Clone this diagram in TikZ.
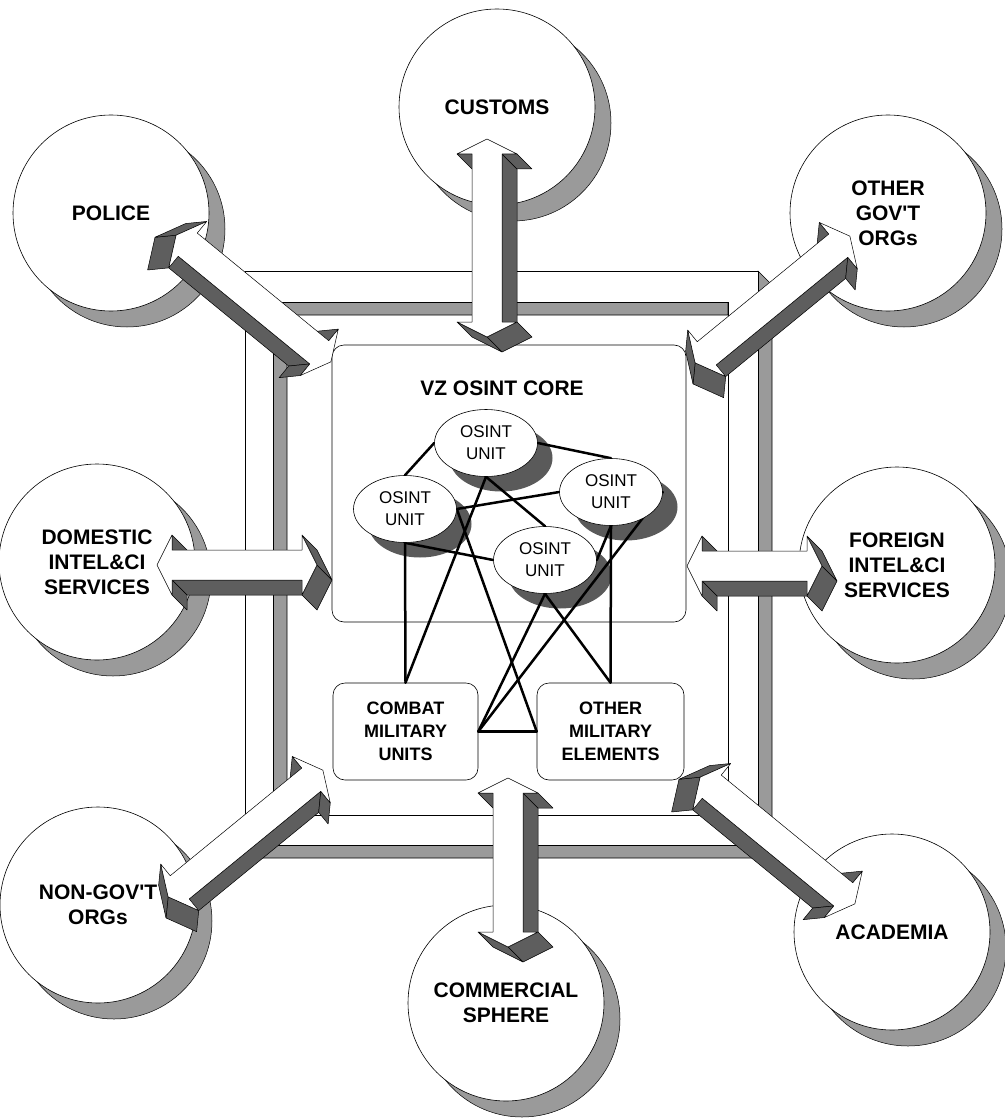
\documentclass[tikz,border=0pt]{standalone}
\usepackage{fontspec}
\setmainfont{Liberation Sans}
\usetikzlibrary{shapes.geometric}

\pgfdeclarelayer{frameL}
\pgfdeclarelayer{shadeL}
\pgfdeclarelayer{wireL}
\pgfdeclarelayer{topL}
\pgfsetlayers{frameL,shadeL,wireL,main,topL}

\definecolor{sideface}{HTML}{5E5E5E}
\definecolor{wall}{HTML}{9A9A9A}
\definecolor{unitshadow}{HTML}{5A5A5A}

\tikzset{
  sidefill/.style={fill=sideface, draw=black, line width=0.5pt, line join=round},
  frontfill/.style={fill=white, draw=black, line width=0.5pt, line join=round},
  wallfill/.style={fill=wall, draw=black, line width=0.6pt, line join=round},
  party/.style={circle, draw=black, line width=0.6pt, fill=white, minimum size=196pt,
    inner sep=0pt, align=center, font=\bfseries\fontsize{21}{25}\selectfont},
  partyshadow/.style={fill=wall, draw=black, line width=0.5pt},
  unit/.style={ellipse, draw=black, line width=0.6pt, fill=white, minimum width=103pt,
    minimum height=67pt, inner sep=0pt, align=center, font=\fontsize{17}{22}\selectfont},
  group/.style={rounded corners=12pt, draw=black, line width=0.6pt, fill=white,
    align=center, inner sep=0pt, font=\bfseries\fontsize{18}{23}\selectfont},
  link/.style={line width=2.5pt, line cap=round}
}

% Extruded double arrow: centre (#1,#2), rotation #3, mirror #4, tip-to-tip length #5.
% Local shape points along the y axis; depth (15,15) in local coordinates.
\newcommand{\blockarrow}[5]{%
  \begin{scope}[shift={(#1,#2)}, rotate=#3, xscale=#4]
    \pgfmathsetmacro\ah{#5/2}
    \pgfmathsetmacro\ab{#5/2-15}
    \path[sidefill] (15,-\ab) -- (15,\ab) -- (30,\ab+15) -- (30,-\ab+15) -- cycle;
    \path[sidefill] (30,-\ab) -- (15,-\ab) -- (30,-\ab+15) -- (45,-\ab+15) -- cycle;
    \path[sidefill] (-15,-\ab) -- (-30,-\ab) -- (-15,-\ab+15) -- (0,-\ab+15) -- cycle;
    \path[sidefill] (30,\ab) -- (0,\ah) -- (15,\ah+15) -- (45,\ab+15) -- cycle;
    \path[sidefill] (0,\ah) -- (-30,\ab) -- (-15,\ab+15) -- (15,\ah+15) -- cycle;
    \path[frontfill] (0,-\ah) -- (30,-\ab) -- (15,-\ab) -- (15,\ab) -- (30,\ab) -- (0,\ah)
      -- (-30,\ab) -- (-15,\ab) -- (-15,-\ab) -- (-30,-\ab) -- cycle;
  \end{scope}}

\begin{document}
\begin{tikzpicture}[x=1pt,y=-1pt]
\useasboundingbox (0,0) rectangle (1004,1118);

\begin{pgfonlayer}{frameL}
  \fill[white] (0,0) rectangle (1004,1118);
  % square frame with its depth faces
  \path[wallfill] (758,271) -- (772,285) -- (772,858) -- (758,845) -- cycle;
  \path[wallfill] (245,845) -- (758,845) -- (772,858) -- (259,858) -- cycle;
  \path[wallfill] (273,302) -- (728,302) -- (728,315) -- (287,315) -- cycle;
  \path[wallfill] (273,302) -- (287,315) -- (287,815) -- (273,815) -- cycle;
  \path[fill=white, draw=black, line width=0.6pt, even odd rule]
    (245,271) rectangle (758,845) (273,302) rectangle (728,815);

  % surrounding partners
  \foreach \cx/\cy in {111/213, 497/107, 888/213, 97/562, 897/565, 98/905, 506/1003, 892/932}
    \path[partyshadow] (\cx+16,\cy+16) circle [radius=98pt];
  \node[party] (police)   at (111,213)  {POLICE};
  \node[party] (customs)  at (497,107)  {CUSTOMS};
  \node[party] (othergov) at (888,213)  {OTHER\\GOV\textquotesingle T\\ORGs};
  \node[party] (domestic) at (97,562)   {DOMESTIC\\INTEL\&CI\\SERVICES};
  \node[party] (foreign)  at (897,565)  {FOREIGN\\INTEL\&CI\\SERVICES};
  \node[party] (nongov)   at (98,905)   {NON-GOV\textquotesingle T\\ORGs};
  \node[party] (commerce) at (506,1003) {COMMERCIAL\\SPHERE};
  \node[party] (academia) at (892,932)  {ACADEMIA};

  % core and military boxes
  \node[group, minimum width=354pt, minimum height=277pt] (core) at (509,483.5) {};
  \node[font=\bfseries\fontsize{21}{25}\selectfont] (coretitle) at (502,388) {VZ OSINT CORE};
  \node[group, minimum width=145pt, minimum height=97pt] (combat) at (405.5,731.5)
    {COMBAT\\MILITARY\\UNITS};
  \node[group, minimum width=147pt, minimum height=97pt] (othermil) at (610.5,731.5)
    {OTHER\\MILITARY\\ELEMENTS};
\end{pgfonlayer}

% OSINT units
\node[unit] (ua) at (486,443) {OSINT\\UNIT};
\node[unit] (ub) at (405,509) {OSINT\\UNIT};
\node[unit] (uc) at (611,492) {OSINT\\UNIT};
\node[unit] (ud) at (545,560) {OSINT\\UNIT};

\begin{pgfonlayer}{shadeL}
  \foreach \u in {ua,ub,uc,ud}
    \fill[unitshadow] ([shift={(15,15)}]\u.center) ellipse [x radius=51.5pt, y radius=33.5pt];
\end{pgfonlayer}

\begin{pgfonlayer}{wireL}
  \draw[link] (ua.west) -- (ub.north);
  \draw[link] (ua.east) -- (uc.north);
  \draw[link] (ua.south) -- (ud.north);
  \draw[link] (uc.west) -- (ub.east);
  \draw[link] (ub.south) -- (ud.west);
  \draw[link] (uc.south) -- (ud.east);
  \draw[link] (ub.south) -- (combat.north);
  \draw[link] (ua.south) -- (combat.north);
  \draw[link] (ud.south) -- (combat.east);
  \draw[link] (uc.east) -- (combat.east);
  \draw[link] (ub.east) -- (othermil.west);
  \draw[link] (ud.south) -- (othermil.north);
  \draw[link] (uc.south) -- (othermil.north);
  \draw[link] (combat.east) -- (othermil.west);
\end{pgfonlayer}

\begin{pgfonlayer}{topL}
  \blockarrow{487}{238}{0}{1}{198}          % customs
  \blockarrow{508}{862.5}{0}{1}{169}        % commercial sphere
  \blockarrow{237}{565}{90}{-1}{160}        % domestic services
  \blockarrow{754.5}{566}{90}{-1}{135}      % foreign services
  \blockarrow{253.5}{298.5}{230.7}{1}{200}  % police
  \blockarrow{772.5}{299.5}{309.3}{1}{200}  % other government
  \blockarrow{245.5}{833.5}{309.3}{1}{200}  % non-government
  \blockarrow{777.5}{840.5}{230.7}{1}{200}  % academia
\end{pgfonlayer}
\end{tikzpicture}
\end{document}
